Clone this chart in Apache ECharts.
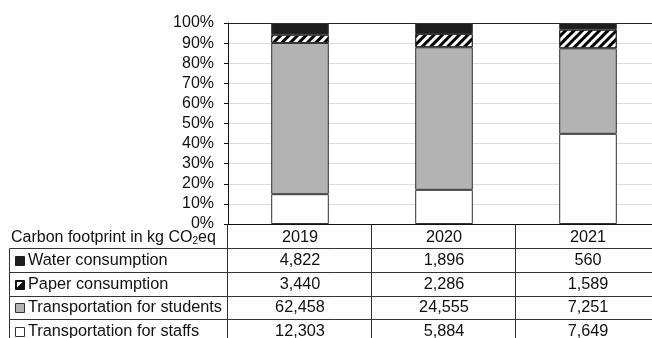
<!DOCTYPE html>
<html>
<head>
<meta charset="utf-8">
<script src="https://cdn.jsdelivr.net/npm/echarts@6/dist/echarts.min.js"></script>
<style>
html,body{margin:0;padding:0;background:#fff;overflow:hidden;width:652px;height:338px;}
#c{width:660px;height:338px;}
</style>
</head>
<body>
<div id="c"></div>
<script>
const years = ['2019', '2020', '2021'];
const water = [4822, 1896, 560];
const paper = [3440, 2286, 1589];
const students = [62458, 24555, 7251];
const staffs = [12303, 5884, 7649];
const yTicks = [0, 10, 20, 30, 40, 50, 60, 70, 80, 90, 100];
const rowNames = ['Water consumption', 'Paper consumption', 'Transportation for students', 'Transportation for staffs'];
const headerText = 'Carbon footprint in kg CO';

const totals = years.map((_, i) => water[i] + paper[i] + students[i] + staffs[i]);
const pct = arr => arr.map((v, i) => v / totals[i] * 100);
const fmt = v => v.toLocaleString('en-US');

const FONT = 'Liberation Sans, Arial, sans-serif';
const FS = 16.3;
const chart = echarts.init(document.getElementById('c'));
const border = '#333';

chart.setOption({
  animation: false,
  backgroundColor: '#fff',
  grid: { left: 228, right: 0, top: 23, bottom: 114, containLabel: false },
  xAxis: [{
    type: 'category', data: years, position: 'bottom',
    axisLine: { show: true, lineStyle: { color: '#111', width: 1 } },
    axisTick: { show: false }, axisLabel: { show: false }, splitLine: { show: false }
  }, {
    type: 'category', data: years, position: 'top',
    axisLine: { show: true, lineStyle: { color: '#222', width: 1 } },
    axisTick: { show: false }, axisLabel: { show: false }, splitLine: { show: false }
  }],
  yAxis: {
    type: 'value', min: yTicks[0], max: yTicks[yTicks.length - 1], interval: 10,
    axisLine: { show: true, lineStyle: { color: '#111', width: 1 } },
    axisTick: { show: true, inside: false, length: 4, lineStyle: { color: '#111' } },
    axisLabel: { formatter: '{value}%', fontFamily: FONT, fontSize: 16, color: '#111', margin: 14 },
    splitLine: { show: true, lineStyle: { color: '#dcdcdc', width: 1 } }
  },
  series: [
    { name: rowNames[3], type: 'bar', stack: 'a', barWidth: '40%', data: pct(staffs),
      itemStyle: { color: '#fff', borderColor: border, borderWidth: 1 } },
    { name: rowNames[2], type: 'bar', stack: 'a', barWidth: '40%', data: pct(students),
      itemStyle: { color: '#b3b3b3', borderColor: border, borderWidth: 1 } },
    { name: rowNames[1], type: 'bar', stack: 'a', barWidth: '40%', data: pct(paper),
      itemStyle: { color: '#fff', borderColor: border, borderWidth: 1,
        decal: { symbol: 'rect', symbolSize: 1, color: '#000', dashArrayX: [1, 0], dashArrayY: [2.5, 2.5], rotation: -Math.PI / 4 } } },
    { name: rowNames[0], type: 'bar', stack: 'a', barWidth: '40%', data: pct(water),
      itemStyle: { color: '#1e1e1e', borderColor: border, borderWidth: 1 } }
  ]
});

// Build data table beneath the axis, aligned with category bands
const centers = years.map((_, i) => chart.convertToPixel({ xAxisIndex: 0 }, i));
const band = centers[1] - centers[0];
const bounds = [centers[0] - band / 2].concat(centers.map(c => c + band / 2));
const yBase = chart.convertToPixel({ yAxisIndex: 0 }, 0);
const headerH = 24.3, rowH = 23.65, leftX = 9.5, W = 660;
const rowTops = rowNames.map((_, r) => yBase + headerH + r * rowH);
const lineStyle = { stroke: '#333', lineWidth: 1 };
const els = [];
const crisp = v => Math.round(v) + 0.5;

rowTops.forEach(y => els.push({ type: 'line', silent: true, shape: { x1: leftX, y1: crisp(y), x2: W, y2: crisp(y) }, style: lineStyle }));
els.push({ type: 'line', silent: true, shape: { x1: leftX, y1: crisp(rowTops[0]), x2: leftX, y2: 340 }, style: lineStyle });
bounds.forEach(x => els.push({ type: 'line', silent: true, shape: { x1: crisp(x) - 1, y1: yBase, x2: crisp(x) - 1, y2: 340 }, style: lineStyle }));

// header
els.push({ type: 'text', silent: true, style: {
  x: 11, y: yBase + headerH / 2 + 1,
  text: '{a|' + headerText + '}{s|2}{a|eq}',
  verticalAlign: 'middle', textVerticalAlign: 'middle', align: 'left', textAlign: 'left',
  fill: '#111',
  rich: { a: { fontFamily: FONT, fontSize: 16, lineHeight: 18, fill: '#111' },
          s: { fontFamily: FONT, fontSize: 10, lineHeight: 10, verticalAlign: 'bottom', fill: '#111' } }
}});
years.forEach((yr, i) => els.push({ type: 'text', silent: true, style: {
  x: centers[i], y: yBase + headerH / 2 + 1, text: yr, font: FS + 'px ' + FONT, fill: '#111',
  align: 'center', textAlign: 'center', verticalAlign: 'middle', textVerticalAlign: 'middle' } }));

const rows = [water, paper, students, staffs];
rows.forEach((arr, r) => {
  const cy = rowTops[r] + rowH / 2 + 0.5;
  els.push({ type: 'text', silent: true, style: {
    x: 28, y: cy, text: rowNames[r], font: FS + 'px ' + FONT, fill: '#111',
    align: 'left', textAlign: 'left', verticalAlign: 'middle', textVerticalAlign: 'middle' } });
  arr.forEach((v, i) => els.push({ type: 'text', silent: true, style: {
    x: centers[i], y: cy, text: fmt(v), font: FS + 'px ' + FONT, fill: '#111',
    align: 'center', textAlign: 'center', verticalAlign: 'middle', textVerticalAlign: 'middle' } }));
  const ix = 15.5, iy = Math.round(cy - 4.5) + 0.5, s = 9;
  if (r === 0) {
    els.push({ type: 'rect', silent: true, shape: { x: ix, y: iy, width: s, height: s }, style: { fill: '#1e1e1e', stroke: '#1e1e1e', lineWidth: 1 } });
  } else if (r === 1) {
    els.push({ type: 'rect', silent: true, shape: { x: ix, y: iy, width: s, height: s }, style: { fill: '#111', stroke: '#111', lineWidth: 1 } });
    els.push({ type: 'polygon', silent: true, shape: { points: [[ix + 1.5, iy + 1.5], [ix + s - 2, iy + 1.5], [ix + 1.5, iy + s - 2]] }, style: { fill: '#fff' } });
  } else if (r === 2) {
    els.push({ type: 'rect', silent: true, shape: { x: ix, y: iy, width: s, height: s }, style: { fill: '#b3b3b3', stroke: '#333', lineWidth: 1 } });
  } else {
    els.push({ type: 'rect', silent: true, shape: { x: ix, y: iy, width: s, height: s }, style: { fill: '#fff', stroke: '#333', lineWidth: 1 } });
  }
});

chart.setOption({ graphic: { elements: els } });
</script>
</body>
</html>
